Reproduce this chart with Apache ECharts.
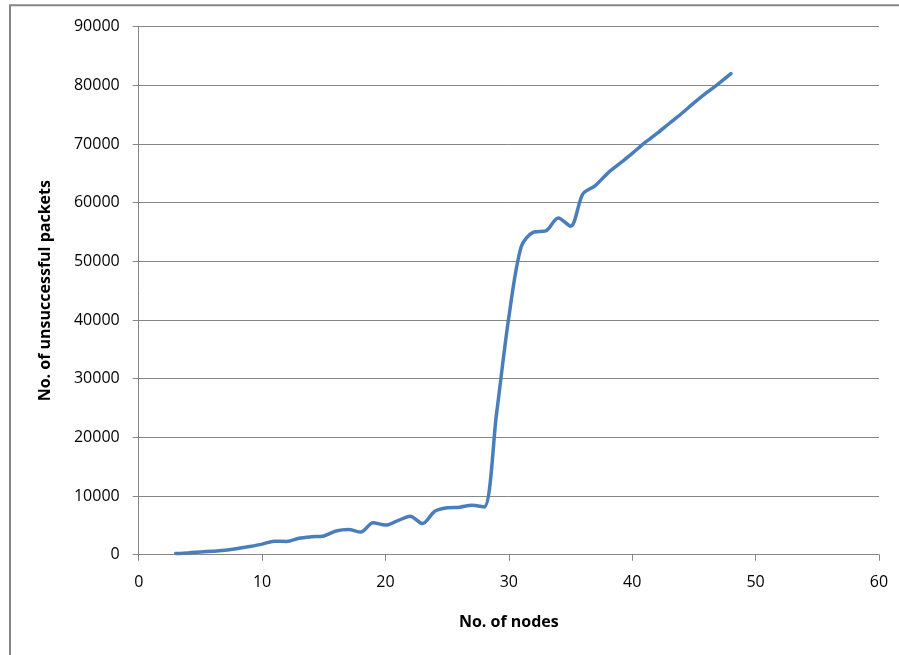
<!DOCTYPE html>
<html>
<head>
<meta charset="utf-8">
<title>Unsuccessful packets vs nodes</title>
<script src="https://cdn.jsdelivr.net/npm/echarts@6/dist/echarts.min.js"></script>
<style>
  html, body { margin: 0; padding: 0; background: #ffffff; }
  #chart { width: 899px; height: 655px; }
</style>
</head>
<body>
<div id="chart"></div>
<script>
// Number of nodes in the network
const nodes = [3, 4, 5, 6, 7, 8, 9, 10, 11, 12, 13, 14, 15, 16, 17, 18, 19, 20, 21, 22, 23, 24, 25,
               26, 27, 28, 29, 30, 31, 32, 33, 34, 35, 36, 37, 38, 39, 40, 41, 42, 43, 44, 45, 46, 47, 48];
// Packets that failed to be delivered for each node count
const unsuccessful = [200, 300, 450, 600, 750, 1050, 1400, 1800, 2300, 2250, 2800, 3050, 3200, 4050, 4300, 3850,
                      5450, 5050, 5800, 6550, 5300, 7400, 8000, 8100, 8450, 8150, 24000, 40500, 52500, 55000,
                      55200, 57400, 56000, 61500, 62900, 65000, 66700, 68400, 70200, 71800, 73500, 75200, 77000,
                      78700, 80300, 82000];

const xTicks = { min: 0, max: 60, step: 10 };
const yTicks = { min: 0, max: 90000, step: 10000 };

const axisGray = '#868686';
const fontFamily = '"Open Sans", "Noto Sans", sans-serif';

const chart = echarts.init(document.getElementById('chart'), null, { renderer: 'canvas' });

chart.setOption({
  animation: false,
  backgroundColor: '#ffffff',
  graphic: [{
    type: 'rect',
    shape: { x: 10, y: 5.3, width: 1000, height: 1000 },
    style: { fill: 'none', stroke: axisGray, lineWidth: 2 },
    silent: true,
    z: 0
  }],
  grid: { left: 138.7, right: 20, top: 26.7, bottom: 100.3, containLabel: false },
  xAxis: {
    type: 'value',
    min: xTicks.min,
    max: xTicks.max,
    interval: xTicks.step,
    name: 'No. of nodes',
    nameLocation: 'middle',
    nameGap: 60,
    nameTextStyle: { fontFamily, fontSize: 16, fontWeight: 'bold', color: '#000' },
    axisLine: { show: true, lineStyle: { color: axisGray, width: 1 } },
    axisTick: { show: true, inside: false, length: 6, lineStyle: { color: axisGray } },
    axisLabel: { margin: 20, fontFamily, fontSize: 16, color: '#000' },
    splitLine: { show: false }
  },
  yAxis: {
    type: 'value',
    min: yTicks.min,
    max: yTicks.max,
    interval: yTicks.step,
    name: 'No. of unsuccessful packets',
    nameLocation: 'middle',
    nameGap: 85,
    nameRotate: 90,
    nameTextStyle: { fontFamily, fontSize: 16, fontWeight: 'bold', color: '#000' },
    axisLine: { show: true, lineStyle: { color: axisGray, width: 1 } },
    axisTick: { show: true, inside: false, length: 6, lineStyle: { color: axisGray } },
    axisLabel: { margin: 19, fontFamily, fontSize: 16, color: '#000', formatter: v => String(v) },
    splitLine: { show: true, lineStyle: { color: axisGray, width: 1 } }
  },
  series: [{
    type: 'line',
    data: nodes.map((n, i) => [n, unsuccessful[i]]),
    smooth: 0.3,
    showSymbol: false,
    lineStyle: { color: '#4a7ebb', width: 3.5, cap: 'round', join: 'round' },
    itemStyle: { color: '#4a7ebb' },
    z: 3
  }]
});
</script>
</body>
</html>
